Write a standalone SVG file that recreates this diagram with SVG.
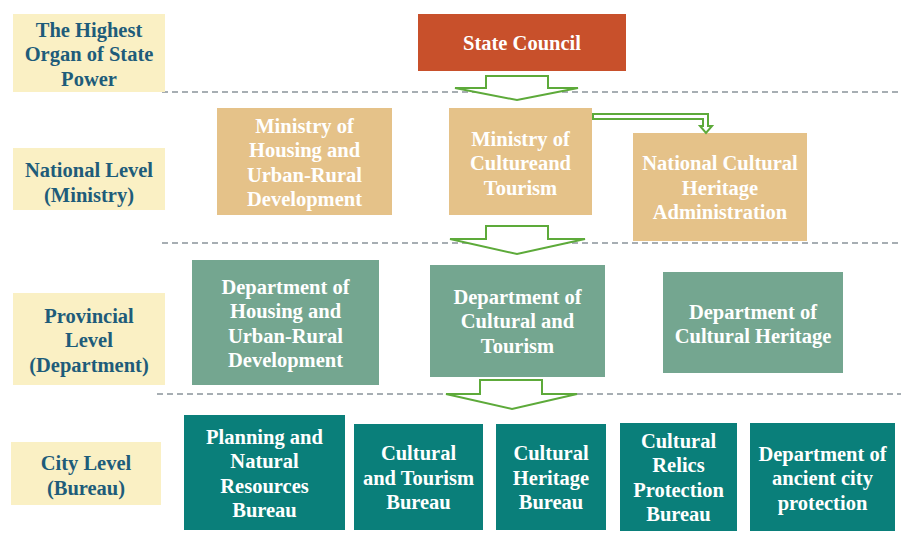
<svg xmlns="http://www.w3.org/2000/svg" width="901" height="542" viewBox="0 0 901 542">
<style>
text{font-family:"Liberation Serif","Times New Roman",serif;font-weight:700;font-size:20.5px;text-anchor:middle;dominant-baseline:central}
.lbl rect{fill:#FAF0C4}
.lbl text{fill:#1E5C7A}
.w text{fill:#ffffff}
.top rect{fill:#C8502B}
.min rect{fill:#E5C289}
.prov rect{fill:#74A690}
.city rect{fill:#0A7F7A}
.dash{stroke:#8A949A;stroke-width:1.5;stroke-dasharray:6 4;fill:none}
.arr{fill:#ffffff;stroke:#5DAA3A;stroke-width:2;stroke-linejoin:miter}
</style>
<rect width="901" height="542" fill="#ffffff"/>
<g id="separators">
<line class="dash" x1="162" y1="92" x2="901" y2="92"/>
<line class="dash" x1="162" y1="243" x2="901" y2="243"/>
<line class="dash" x1="157" y1="394" x2="901" y2="394"/>
</g>
<g id="label-highest" class="lbl"><rect x="13" y="14" width="152" height="78"/><text x="89" y="29.5">The Highest</text><text x="89" y="54">Organ of State</text><text x="89" y="78.5">Power</text></g>
<g id="label-national" class="lbl"><rect x="13" y="148" width="152" height="62"/><text x="89" y="170">National Level</text><text x="89" y="194.5">(Ministry)</text></g>
<g id="label-provincial" class="lbl"><rect x="13" y="293" width="152" height="92"/><text x="89" y="315.5">Provincial</text><text x="89" y="340">Level</text><text x="89" y="364.5">(Department)</text></g>
<g id="label-city" class="lbl"><rect x="11" y="442" width="150" height="63"/><text x="86" y="463">City Level</text><text x="86" y="487.5">(Bureau)</text></g>
<g id="state-council" class="top w"><rect x="418" y="14" width="208" height="57"/><text x="522" y="43">State Council</text></g>
<g id="ministry-housing" class="min w"><rect x="217" y="108" width="175" height="107"/><text x="304.5" y="125.5">Ministry of</text><text x="304.5" y="150">Housing and</text><text x="304.5" y="174.5">Urban-Rural</text><text x="304.5" y="199">Development</text></g>
<g id="ministry-culture" class="min w"><rect x="449" y="108" width="143" height="107"/><text x="520.5" y="138.5">Ministry of</text><text x="520.5" y="163">Cultureand</text><text x="520.5" y="187.5">Tourism</text></g>
<g id="ncha" class="min w"><rect x="633" y="133" width="174" height="108"/><text x="720" y="163">National Cultural</text><text x="720" y="187.5">Heritage</text><text x="720" y="212">Administration</text></g>
<g id="dept-housing" class="prov w"><rect x="192" y="260" width="187" height="125"/><text x="285.5" y="286.5">Department of</text><text x="285.5" y="311">Housing and</text><text x="285.5" y="335.5">Urban-Rural</text><text x="285.5" y="360">Development</text></g>
<g id="dept-culture" class="prov w"><rect x="430" y="265" width="175" height="112"/><text x="517.5" y="296.5">Department of</text><text x="517.5" y="321">Cultural and</text><text x="517.5" y="345.5">Tourism</text></g>
<g id="dept-heritage" class="prov w"><rect x="663" y="272" width="180" height="101"/><text x="753" y="311.5">Department of</text><text x="753" y="336">Cultural Heritage</text></g>
<g id="city-planning" class="city w"><rect x="184" y="415" width="161" height="115"/><text x="264.5" y="436.5">Planning and</text><text x="264.5" y="461">Natural</text><text x="264.5" y="485.5">Resources</text><text x="264.5" y="510">Bureau</text></g>
<g id="city-tourism" class="city w"><rect x="354" y="424" width="129" height="106"/><text x="418.5" y="453">Cultural</text><text x="418.5" y="477.5">and Tourism</text><text x="418.5" y="502">Bureau</text></g>
<g id="city-heritage" class="city w"><rect x="496" y="424" width="110" height="106"/><text x="551" y="453">Cultural</text><text x="551" y="477.5">Heritage</text><text x="551" y="502">Bureau</text></g>
<g id="city-relics" class="city w"><rect x="620" y="423" width="117" height="108"/><text x="678.5" y="440.5">Cultural</text><text x="678.5" y="465">Relics</text><text x="678.5" y="489.5">Protection</text><text x="678.5" y="514">Bureau</text></g>
<g id="city-ancient" class="city w"><rect x="750" y="423" width="145" height="108"/><text x="822.5" y="453.5">Department of</text><text x="822.5" y="478">ancient city</text><text x="822.5" y="502.5">protection</text></g>
<g id="connectors">
<polygon class="arr" points="486,76 548,76 548,88 578,88 517,100 455,88 486,88"/>
<polygon class="arr" points="486,226 548,226 548,239 585,239 517,254 450,239 486,239"/>
<polygon class="arr" points="480,380 542,380 542,394 577,394 512,409 446,394 480,394"/>
<polygon class="arr" stroke-width="1.5" points="593,114 708,114 708,126 712,126 706,133 700,126 703,126 703,119 593,119"/>
</g>
</svg>
